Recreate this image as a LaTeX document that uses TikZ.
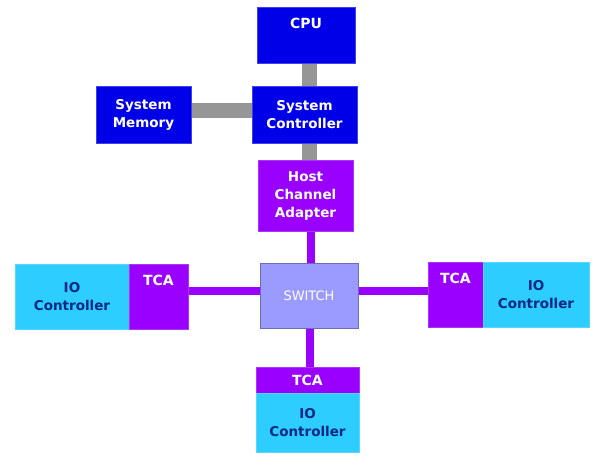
\documentclass[tikz,border=0pt]{standalone}
\usepackage{fontspec}
\setmainfont{DejaVu Sans}
\usepackage{xcolor}
\usetikzlibrary{positioning,backgrounds}

\definecolor{sysblue}{RGB}{0,0,232}
\definecolor{hcapurple}{RGB}{153,0,255}
\definecolor{swfill}{RGB}{155,155,255}
\definecolor{iocyan}{RGB}{45,205,255}
\definecolor{ionavy}{RGB}{0,40,130}
\definecolor{linkgray}{RGB}{150,150,150}

\tikzset{
  blk/.style={rectangle, inner sep=0pt, align=center, text=white,
    font=\bfseries\fontsize{13.5}{18}\selectfont},
  sysblk/.style={blk, fill=sysblue, draw=sysblue!75!white},
  hcablk/.style={blk, fill=hcapurple, draw=hcapurple!80!white},
  ioblk/.style={blk, fill=iocyan, draw=iocyan!80!white, text=ionavy},
  swblk/.style={blk, fill=swfill, draw=swfill!70!black, font=\fontsize{13}{16}\selectfont},
  toptxt/.style={inner sep=0pt, text=white, font=\bfseries\fontsize{14}{16}\selectfont},
  grayline/.style={draw=linkgray, line width=15pt},
  ibline/.style={draw=hcapurple, line width=8pt},
}

\begin{document}
\begin{tikzpicture}[x=1pt,y=-1pt]
  % host side
  \node[sysblk, minimum width=98pt, minimum height=56pt] (cpu) at (306,35) {};
  \node[toptxt, below=11pt of cpu.north] (cputxt) {CPU};
  \node[sysblk, minimum width=105pt, minimum height=57pt] (sysctrl) at (304.5,114.5) {System\\Controller};
  \node[sysblk, minimum width=95pt, minimum height=57pt] (mem) at (143.5,114.5) {System\\Memory};
  \node[hcablk, minimum width=95pt, minimum height=71pt] (hca) at (305.5,195.5) {Host\\Channel\\Adapter};

  % fabric
  \node[swblk, minimum width=98pt, minimum height=65pt] (switch) at (309,295.5) {SWITCH};

  % left io
  \node[ioblk, minimum width=114pt, minimum height=65pt] (lio) at (72,296.5) {IO\\Controller};
  \node[hcablk, minimum width=59pt, minimum height=65pt] (ltca) at (158.5,296.5) {};
  \node[toptxt, below=11pt of ltca.north] (ltcatxt) {TCA};

  % right io
  \node[hcablk, minimum width=55pt, minimum height=65pt] (rtca) at (455.5,294.5) {};
  \node[toptxt, below=11pt of rtca.north] (rtcatxt) {TCA};
  \node[ioblk, minimum width=106pt, minimum height=65pt] (rio) at (536,294.5) {IO\\Controller};

  % bottom io
  \node[hcablk, minimum width=103pt, minimum height=26pt, font=\bfseries\fontsize{14}{16}\selectfont] (btca) at (307.5,380) {TCA};
  \node[ioblk, minimum width=103pt, minimum height=59pt] (bio) at (307.5,422.5) {IO\\Controller};

  \begin{scope}[on background layer]
    \fill[white] (0,0) rectangle (600,464);
    \draw[grayline] ([xshift=5pt]sysctrl.north) -- ([xshift=5pt]sysctrl.north |- cpu.south);
    \draw[grayline] ([yshift=4pt]mem.east) -- ([yshift=4pt]mem.east -| sysctrl.west);
    \draw[grayline] ([xshift=5pt]sysctrl.south) -- ([xshift=5pt]sysctrl.south |- hca.north);
    \draw[ibline] ([xshift=2pt]switch.north) -- ([xshift=2pt]switch.north |- hca.south);
    \draw[ibline] ([yshift=5pt]switch.west) -- ([yshift=5pt]switch.west -| ltca.east);
    \draw[ibline] ([yshift=5pt]switch.east) -- ([yshift=5pt]switch.east -| rtca.west);
    \draw[ibline] ([xshift=1pt]switch.south) -- ([xshift=1pt]switch.south |- btca.north);
  \end{scope}
\end{tikzpicture}
\end{document}
